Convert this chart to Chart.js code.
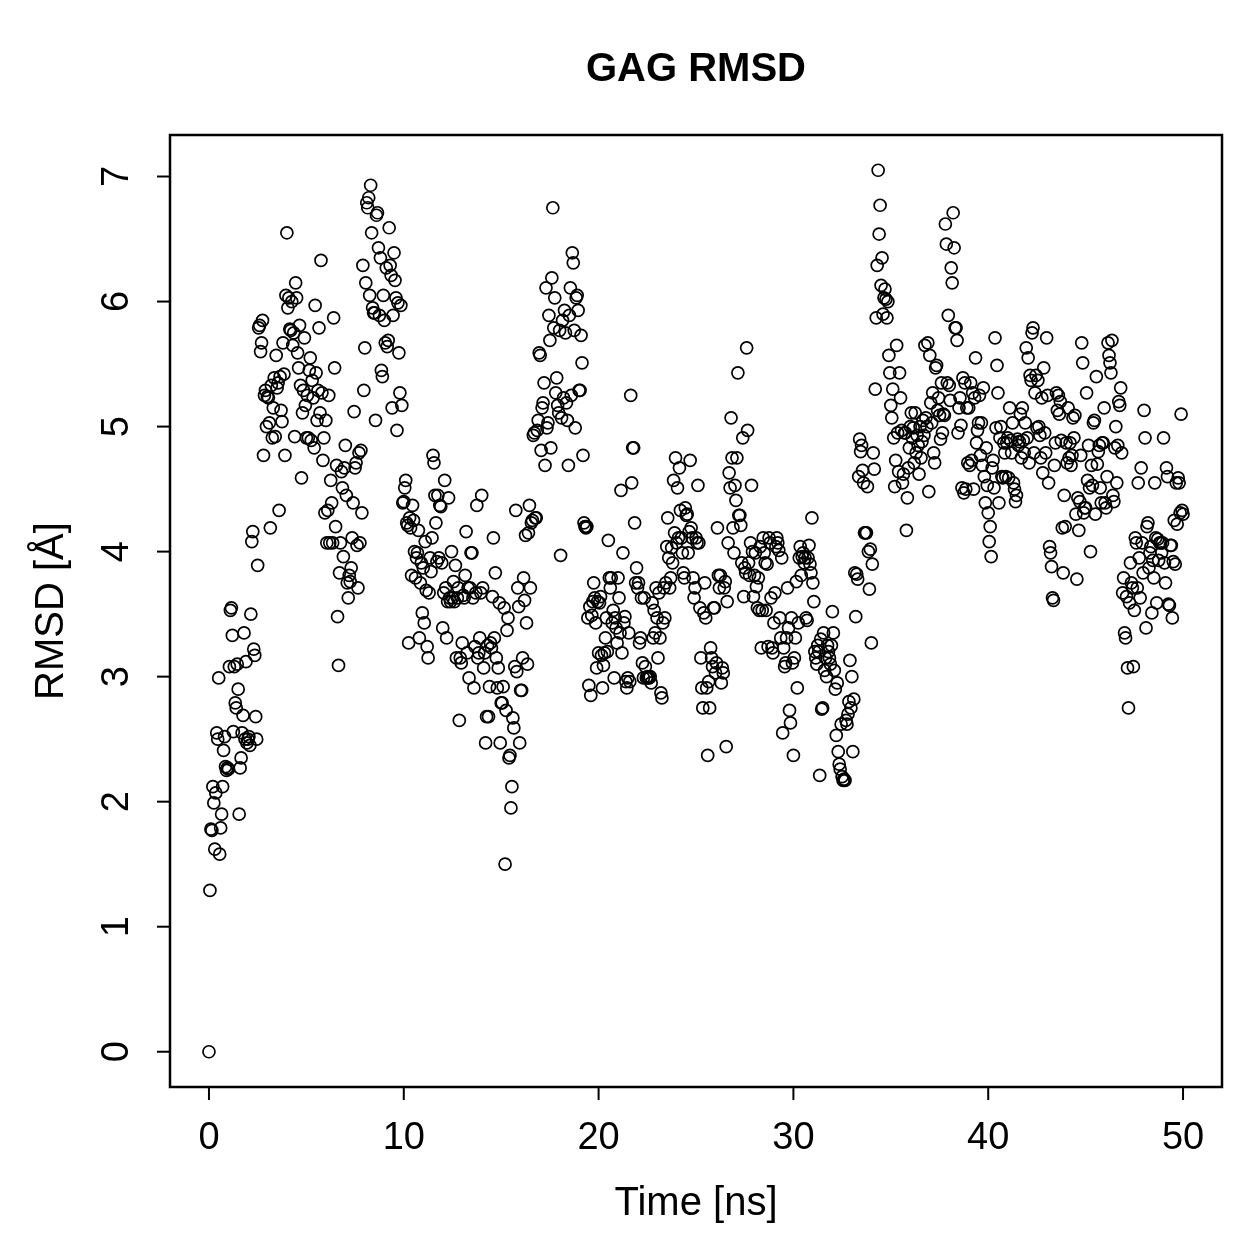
<!DOCTYPE html>
<html>
<head>
<meta charset="utf-8">
<title>GAG RMSD</title>
<script src="https://cdn.jsdelivr.net/npm/chart.js@4.4.1/dist/chart.umd.min.js"></script>
<style>
  html, body { margin: 0; padding: 0; background: #fff; }
  #wrap { width: 1259px; height: 1259px; }
</style>
</head>
<body>
<div id="wrap"><canvas id="rmsdChart" width="1259" height="1259"></canvas></div>
<script>
// sampling interval of the trajectory (ns)
const timeStep = 0.05;

// RMSD values, in time order
const rmsd = [
  0, 1.29, 1.78, 1.77, 2.12, 1.99, 1.62, 2.07, 2.55, 2.5, 2.99, 1.58, 1.79, 1.9, 2.12, 2.41, 2.52, 2.28, 2.25, 2.27,
  2.26, 3.08, 3.53, 3.55, 3.33, 2.56, 3.08, 2.79, 2.75, 3.1, 2.9, 1.9, 2.27, 2.35, 2.55, 2.69, 3.35, 2.5, 3.12, 2.47, 2.5,
  2.52, 2.45, 3.5, 4.08, 4.16, 3.22, 3.17, 2.68, 2.5, 3.89, 5.79, 5.81, 5.6, 5.67, 5.85, 4.77, 5.25, 5.29, 5.0, 5.24,
  5.23, 5.03, 4.19, 5.33, 4.91, 5.15, 5.39, 4.92, 5.57, 5.31, 5.35, 4.33, 5.4, 5.13, 5.04, 5.67, 5.42, 4.77, 6.05, 6.55, 5.95,
  6.03, 5.78, 5.77, 6.0, 5.65, 5.75, 4.92, 6.15, 6.03, 5.59, 5.47, 5.81, 5.33, 4.59, 5.11, 5.29, 5.71, 5.17, 4.91, 5.25,
  4.91, 5.45, 5.55, 4.89, 5.37, 5.23, 4.83, 5.97, 5.43, 5.05, 5.29, 5.79, 5.11, 6.33, 5.27, 4.73, 4.91, 4.31, 5.05, 4.07, 4.33,
  5.25, 4.07, 4.57, 4.39, 4.07, 5.87, 5.47, 4.2, 4.69, 3.48, 3.09, 3.83, 4.07, 4.64, 4.51, 3.96, 4.67, 4.85, 4.45, 3.75,
  3.63, 3.81, 3.76, 3.87, 4.11, 4.39, 5.12, 4.67, 4.71, 4.05, 3.71, 4.79, 4.07, 4.81, 4.31, 6.29, 5.29, 5.63, 6.15, 6.79, 6.75,
  6.83, 6.05, 6.93, 6.55, 5.95, 5.91, 5.91, 5.05, 6.69, 6.71, 6.43, 5.89, 6.35, 5.45, 5.4, 6.05, 5.85, 5.67, 6.27, 5.64,
  5.69, 6.59, 6.29, 6.21, 5.15, 5.89, 6.39, 6.17, 6.03, 4.97, 5.99, 5.59, 5.27, 5.97, 5.17, 4.39, 4.4, 4.51, 4.57, 4.23, 4.21,
  3.27, 4.27, 4.19, 3.81, 4.37, 4.25, 4.0, 3.79, 3.95, 3.99, 4.17, 3.31, 3.75, 3.91, 3.51, 3.87, 3.43, 4.08, 3.69, 3.24,
  3.15, 3.67, 3.95, 3.84, 4.11, 4.77, 4.71, 4.45, 4.23, 3.92, 4.45, 3.95, 4.37, 4.36, 3.91, 3.39, 3.67, 4.57, 3.71, 3.31, 3.6,
  4.43, 3.63, 3.6, 4.0, 3.63, 3.76, 3.6, 3.89, 3.15, 3.63, 3.71, 2.65, 3.15, 3.11, 3.27, 3.65, 3.63, 3.81, 4.16, 3.19,
  3.71, 2.99, 3.71, 3.99, 3.99, 3.63, 2.91, 3.24, 3.67, 4.37, 3.15, 3.19, 3.31, 3.67, 4.45, 3.71, 3.07, 3.19, 2.47, 2.68, 3.25,
  2.68, 2.92, 3.27, 3.23, 3.64, 4.11, 3.31, 3.83, 3.15, 2.91, 3.07, 3.59, 2.47, 2.79, 2.79, 2.92, 3.55, 1.5, 2.73, 3.37,
  3.47, 2.35, 2.37, 1.95, 2.12, 2.67, 2.59, 3.08, 4.33, 3.04, 3.71, 3.56, 2.47, 2.89, 2.89, 3.15, 3.79, 3.61, 4.13, 3.43, 3.1,
  4.15, 4.37, 3.71, 4.23, 4.25, 4.93, 4.95, 4.27, 4.27, 4.97, 5.05, 5.59, 5.57, 4.81, 5.15, 5.19, 5.35, 4.69, 6.11, 4.99,
  5.03, 5.89, 5.69, 4.83, 6.19, 6.75, 5.79, 6.03, 5.27, 5.39, 5.17, 5.11, 5.77, 3.97, 5.07, 5.85, 5.23, 5.93, 5.75, 5.19, 5.05,
  4.69, 5.89, 6.11, 5.25, 6.39, 6.31, 5.77, 4.99, 6.03, 6.05, 5.93, 5.29, 5.29, 5.73, 5.51, 4.77, 4.23, 4.2, 4.19, 4.2,
  3.47, 2.93, 3.56, 2.85, 3.49, 3.6, 3.75, 3.63, 3.43, 3.07, 3.6, 3.19, 3.59, 3.64, 3.17, 2.91, 3.09, 3.19, 3.31, 3.47, 3.2,
  4.09, 3.79, 3.71, 3.79, 3.43, 3.53, 2.99, 3.47, 3.39, 3.27, 3.79, 3.63, 3.35, 4.49, 3.19, 3.99, 3.43, 3.48, 2.96, 2.91,
  2.99, 3.35, 2.96, 5.25, 4.55, 4.83, 4.83, 4.23, 3.75, 3.87, 3.71, 3.75, 3.27, 3.31, 3.63, 3.11, 2.99, 3.63, 3.08, 2.99, 3.0,
  2.99, 2.99, 3.0, 2.95, 3.59, 3.31, 3.53, 3.35, 3.71, 3.47, 3.15, 3.67, 3.31, 2.87, 2.83, 3.43, 3.71, 3.47, 3.75, 4.04,
  4.27, 3.95, 3.71, 3.79, 4.03, 3.91, 4.57, 4.15, 4.75, 4.07, 4.51, 4.11, 4.67, 4.33, 4.11, 3.99, 3.83, 3.79, 4.35, 4.29, 4.3,
  3.99, 4.16, 4.73, 4.19, 4.11, 3.79, 3.63, 3.71, 4.11, 4.07, 4.53, 4.07, 3.55, 3.15, 2.91, 2.75, 3.51, 3.75, 3.47, 2.91,
  2.37, 2.96, 2.75, 3.23, 3.15, 3.08, 3.55, 3.55, 3.03, 3.11, 4.19, 3.81, 3.71, 3.81, 2.95, 3.07, 3.03, 3.71, 3.76, 2.44, 3.6,
  4.07, 4.63, 4.51, 5.07, 4.75, 4.19, 3.99, 4.53, 4.41, 4.75, 5.43, 4.29, 4.29, 4.21, 3.91, 4.91, 3.64, 3.87, 3.83, 5.63,
  4.97, 3.91, 3.81, 4.07, 4.53, 4.0, 3.64, 3.81, 3.99, 3.72, 3.55, 3.79, 3.53, 4.04, 3.23, 3.53, 4.11, 3.99, 3.91, 3.53, 3.9,
  3.24, 4.11, 4.07, 3.63, 3.23, 3.19, 3.43, 3.67, 4.04, 4.11, 4.07, 4.01, 3.47, 3.31, 3.95, 2.55, 3.23, 3.08, 3.11, 3.31,
  3.71, 3.39, 2.73, 2.63, 3.47, 3.11, 2.37, 3.15, 3.31, 3.76, 2.91, 3.43, 3.95, 4.04, 3.81, 3.96, 3.99, 3.91, 3.95, 3.47, 3.45,
  3.95, 4.05, 3.9, 3.83, 4.27, 3.75, 3.6, 3.2, 3.15, 3.1, 3.25, 3.2, 2.21, 3.3, 2.74, 2.75, 3.35, 3.05, 3.15, 3.0,
  3.25, 3.2, 3.15, 3.1, 3.25, 3.52, 3.35, 3.05, 2.9, 2.53, 2.95, 2.4, 2.3, 2.26, 2.62, 2.2, 2.17, 2.18, 2.17, 2.65,
  2.62, 2.7, 2.8, 3.13, 2.75, 3.0, 2.4, 2.82, 3.83, 3.48, 3.82, 3.78, 4.6, 4.9, 4.8, 4.85, 4.65, 4.55, 4.15, 4.15,
  4.15, 4.52, 4.0, 3.7, 4.02, 3.27, 3.9, 4.79, 4.66, 5.3, 5.87, 6.29, 7.05, 6.54, 6.77, 6.13, 6.35, 5.9, 6.03, 6.1,
  6.02, 5.87, 6.0, 5.57, 5.43, 5.17, 5.07, 5.3, 4.91, 4.52, 4.73, 5.65, 4.95, 4.64, 5.43, 5.23, 4.97, 4.55, 4.62, 4.95,
  4.95, 4.17, 4.43, 4.67, 4.83, 5.0, 5.11, 4.91, 4.99, 4.71, 5.11, 4.79, 4.93, 4.85, 4.62, 5.0, 4.75, 4.88, 5.05, 4.93,
  5.65, 5.07, 5.0, 5.67, 4.48, 5.57, 5.19, 5.03, 5.27, 4.79, 4.71, 5.47, 5.49, 5.13, 5.23, 5.09, 4.9, 5.35, 4.95, 5.1,
  5.09, 6.62, 6.46, 5.35, 5.89, 5.33, 5.21, 6.27, 6.15, 6.71, 6.43, 5.79, 5.79, 5.69, 4.95, 5.15, 5.23, 5.01, 4.51, 5.39,
  4.47, 5.35, 4.5, 5.15, 4.71, 5.15, 4.69, 5.35, 4.73, 5.27, 4.5, 5.23, 5.55, 4.87, 4.97, 5.03, 5.25, 4.77, 5.03, 4.69,
  5.31, 4.6, 4.39, 4.83, 4.53, 4.31, 4.08, 4.2, 3.96, 4.67, 4.73, 4.51, 5.71, 4.99, 5.49, 5.27, 4.39, 4.91, 5.0, 4.6,
  4.59, 4.87, 4.79, 4.6, 4.87, 4.91, 4.59, 5.15, 4.89, 4.79, 5.03, 4.55, 4.5, 4.4, 4.45, 4.9, 4.85, 4.88, 5.1, 4.75,
  5.15, 4.89, 4.79, 5.03, 5.63, 4.91, 5.55, 4.71, 5.41, 5.37, 5.75, 5.79, 4.79, 5.27, 5.41, 4.99, 5.37, 5.0, 4.93, 4.75,
  5.23, 4.63, 5.47, 4.95, 4.79, 5.71, 5.25, 4.55, 4.04, 3.99, 3.88, 3.63, 3.61, 4.69, 4.87, 5.27, 5.13, 5.25, 5.1, 5.2,
  4.89, 4.19, 3.83, 4.45, 4.2, 4.87, 4.71, 5.15, 4.75, 4.87, 4.69, 4.77, 5.07, 4.91, 5.09, 4.3, 3.78, 4.43, 4.17, 4.4,
  4.77, 5.67, 5.51, 4.31, 4.35, 4.35, 5.27, 4.57, 4.85, 4.51, 4.0, 4.69, 4.53, 5.03, 5.05, 4.3, 5.4, 4.7, 4.8, 4.85,
  4.51, 4.39, 4.87, 4.87, 5.15, 4.39, 4.35, 4.6, 5.67, 5.57, 5.51, 5.43, 5.69, 4.45, 4.4, 4.83, 5.0, 4.55, 4.85, 5.2,
  5.17, 5.31, 4.79, 3.67, 3.79, 3.35, 3.31, 3.64, 3.07, 2.75, 3.59, 3.91, 3.75, 3.71, 3.08, 3.53, 4.11, 4.07, 3.71, 4.55,
  3.95, 3.63, 4.67, 4.07, 3.83, 5.13, 4.91, 3.39, 4.2, 4.23, 3.87, 3.99, 4.04, 3.51, 3.93, 3.79, 4.55, 4.11, 3.59, 4.1,
  3.93, 4.07, 4.07, 3.99, 4.07, 4.91, 3.91, 3.75, 4.67, 4.6, 3.58, 3.57, 4.05, 4.05, 3.47, 3.92, 4.25, 3.9, 4.55, 4.22,
  4.59, 4.55, 4.31, 5.1, 4.33, 4.3
];

// time of each frame (ns)
const times = rmsd.map((_, i) => +(i * timeStep).toFixed(2));

const xTicks = [0, 10, 20, 30, 40, 50];
const yTicks = [0, 1, 2, 3, 4, 5, 6, 7];

const chartTitle = 'GAG RMSD';
const xTitle = 'Time [ns]';
const yTitle = 'RMSD [Å]';

const FONT = '"Liberation Sans", Arial, Helvetica, sans-serif';

// R style frame, ticks and labels, placed through the chart's scales
const baseGraphics = {
    id: 'baseGraphics',
    afterDraw(chart) {
        const { ctx, chartArea: a, scales: { x, y } } = chart;
        ctx.save();
        ctx.strokeStyle = '#000';
        ctx.fillStyle = '#000';
        ctx.lineWidth = 2.5;
        ctx.strokeRect(a.left, a.top, a.right - a.left, a.bottom - a.top);

        ctx.lineWidth = 2;
        ctx.font = '38px ' + FONT;
        ctx.textAlign = 'center';
        ctx.textBaseline = 'middle';
        xTicks.forEach(v => {
            const px = x.getPixelForValue(v);
            ctx.beginPath();
            ctx.moveTo(px, a.bottom);
            ctx.lineTo(px, a.bottom + 13);
            ctx.stroke();
            ctx.fillText(String(v), px, a.bottom + 52);
        });
        yTicks.forEach(v => {
            const py = y.getPixelForValue(v);
            ctx.beginPath();
            ctx.moveTo(a.left - 13, py);
            ctx.lineTo(a.left, py);
            ctx.stroke();
            ctx.save();
            ctx.translate(a.left - 52, py);
            ctx.rotate(-Math.PI / 2);
            ctx.fillText(String(v), 0, 0);
            ctx.restore();
        });

        const cx = (a.left + a.right) / 2;
        const cy = (a.top + a.bottom) / 2;
        ctx.font = '40px ' + FONT;
        ctx.fillText(xTitle, cx, a.bottom + 117);
        ctx.save();
        ctx.translate(a.left - 118, cy);
        ctx.rotate(-Math.PI / 2);
        ctx.fillText(yTitle, 0, 0);
        ctx.restore();

        ctx.font = 'bold 40px ' + FONT;
        ctx.fillText(chartTitle, cx, 70);
        ctx.restore();
    }
};

new Chart(document.getElementById('rmsdChart'), {
    type: 'scatter',
    data: {
        datasets: [{
            label: 'RMSD',
            data: times.map((t, i) => ({ x: t, y: rmsd[i] })),
            pointStyle: 'circle',
            pointRadius: 6,
            pointHoverRadius: 6,
            borderWidth: 1.7,
            borderColor: '#000',
            backgroundColor: 'rgba(0,0,0,0)'
        }]
    },
    options: {
        responsive: false,
        animation: false,
        devicePixelRatio: 1,
        layout: { padding: { left: 170, right: 37, top: 135, bottom: 172 } },
        plugins: {
            legend: { display: false },
            tooltip: { enabled: false }
        },
        scales: {
            x: { type: 'linear', min: -2, max: 52, display: false },
            y: { type: 'linear', min: -0.282, max: 7.332, display: false }
        }
    },
    plugins: [baseGraphics]
});
</script>
</body>
</html>
